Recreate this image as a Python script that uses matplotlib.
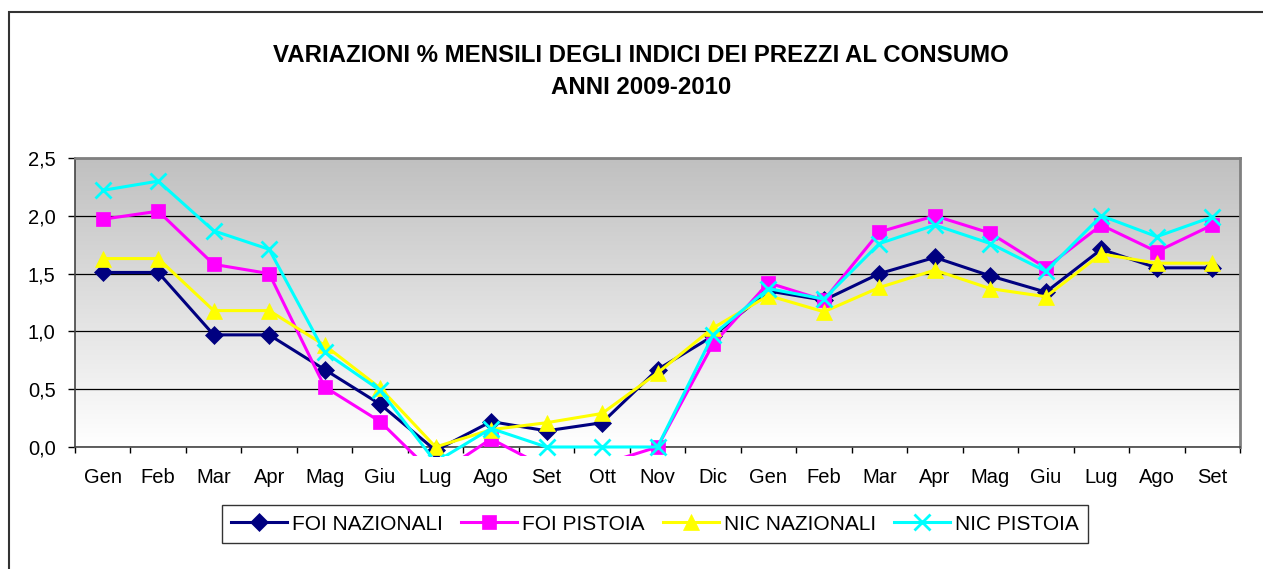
import matplotlib.pyplot as plt
import numpy as np
from matplotlib.colors import LinearSegmentedColormap
from matplotlib.patches import Rectangle

plt.rcParams["font.family"] = ["Liberation Sans", "DejaVu Sans"]

# Data
months = ["Gen", "Feb", "Mar", "Apr", "Mag", "Giu", "Lug", "Ago", "Set",
          "Ott", "Nov", "Dic", "Gen", "Feb", "Mar", "Apr", "Mag", "Giu",
          "Lug", "Ago", "Set"]
foi_naz = [1.51, 1.51, 0.97, 0.97, 0.67, 0.37, -0.03, 0.22, 0.14, 0.21,
           0.67, 0.96, 1.35, 1.27, 1.50, 1.64, 1.48, 1.34, 1.71, 1.55, 1.55]
foi_pis = [1.97, 2.04, 1.58, 1.50, 0.52, 0.22, -0.25, 0.07, -0.18, -0.15,
           0.0, 0.89, 1.42, 1.27, 1.86, 2.00, 1.85, 1.55, 1.92, 1.69, 1.92]
nic_naz = [1.63, 1.63, 1.18, 1.18, 0.88, 0.51, 0.0, 0.15, 0.21, 0.29,
           0.64, 1.03, 1.31, 1.17, 1.38, 1.53, 1.37, 1.30, 1.67, 1.59, 1.59]
nic_pis = [2.22, 2.30, 1.87, 1.71, 0.82, 0.49, -0.13, 0.16, 0.0, 0.0,
           0.0, 0.97, 1.37, 1.28, 1.76, 1.92, 1.76, 1.52, 2.00, 1.82, 1.99]
series_names = ["FOI NAZIONALI", "FOI PISTOIA", "NIC NAZIONALI", "NIC PISTOIA"]

W, H = 1263, 569
fig = plt.figure(figsize=(W / 100, H / 100), dpi=100)

# outer chart border (cut off at right and bottom)
fig.patches.append(Rectangle((9 / W, -0.1), 1.2, (H - 12) / H + 0.1,
                             transform=fig.transFigure, fill=False,
                             edgecolor="#333333", linewidth=1.5))

ax = fig.add_axes([75 / W, (H - 447) / H, (1240 - 75) / W, (447 - 158) / H])

# gradient background, grey at top to white at bottom
bg = LinearSegmentedColormap.from_list("bg", ["#ffffff", "#c0c0c0"])
grad = np.linspace(0, 1, 256).reshape(-1, 1)
ax.imshow(grad, cmap=bg, vmin=0, vmax=1, aspect="auto",
          extent=[0, 1, 0, 1], transform=ax.transAxes, zorder=0,
          origin="lower", interpolation="bilinear")

x = np.arange(len(months))
styles = [
    (foi_naz, "#000080", "D", 9),
    (foi_pis, "#ff00ff", "s", 10),
    (nic_naz, "#ffff00", "^", 11),
    (nic_pis, "#00ffff", "x", 11),
]
clip = Rectangle((0, -0.03), 1, 1.06, transform=ax.transAxes)
for (vals, col, mk, ms), name in zip(styles, series_names):
    ln, = ax.plot(x, vals, color=col, marker=mk, markersize=ms,
                  linewidth=2.2, markeredgewidth=2 if mk == "x" else 0.5,
                  markeredgecolor=col, label=name, zorder=3)
    ln.set_clip_path(clip)

ax.set_xlim(-0.5, len(months) - 0.5)
ax.set_ylim(0, 2.5)
yt = np.arange(0, 2.51, 0.5)
ax.set_yticks(yt)
ax.set_yticklabels([f"{v:.1f}".replace(".", ",") for v in yt], fontsize=14.5)
ax.yaxis.grid(True, color="black", linewidth=0.9)
ax.set_axisbelow(True)

ax.set_xticks(x)
ax.set_xticklabels(months, fontsize=14.5)
ax.set_xticks(np.arange(-0.5, len(months), 1), minor=True)
ax.tick_params(axis="x", which="major", length=0, pad=15)
ax.tick_params(axis="x", which="minor", length=4, width=1, direction="out")
ax.tick_params(axis="y", length=5, width=1, direction="out", pad=9)

for side in ["top", "right"]:
    ax.spines[side].set_color("#808080")
    ax.spines[side].set_linewidth(2)
for side in ["left", "bottom"]:
    ax.spines[side].set_color("#444444")
    ax.spines[side].set_linewidth(1.2)

fig.text(641 / W, 1 - 56 / H, "VARIAZIONI % MENSILI DEGLI INDICI DEI PREZZI AL CONSUMO",
         ha="center", va="center", fontsize=17.3, fontweight="bold")
fig.text(641 / W, 1 - 87 / H, "ANNI 2009-2010",
         ha="center", va="center", fontsize=17.3, fontweight="bold")

leg = fig.legend(loc="center", bbox_to_anchor=(655 / W, 1 - 524 / H), ncol=4,
                 fontsize=15, frameon=True, fancybox=False, edgecolor="black",
                 handlelength=2.7, handletextpad=0.25, columnspacing=0.85,
                 borderpad=0.45)
leg.get_frame().set_linewidth(1.0)

fig.savefig("out.png", dpi=100)
